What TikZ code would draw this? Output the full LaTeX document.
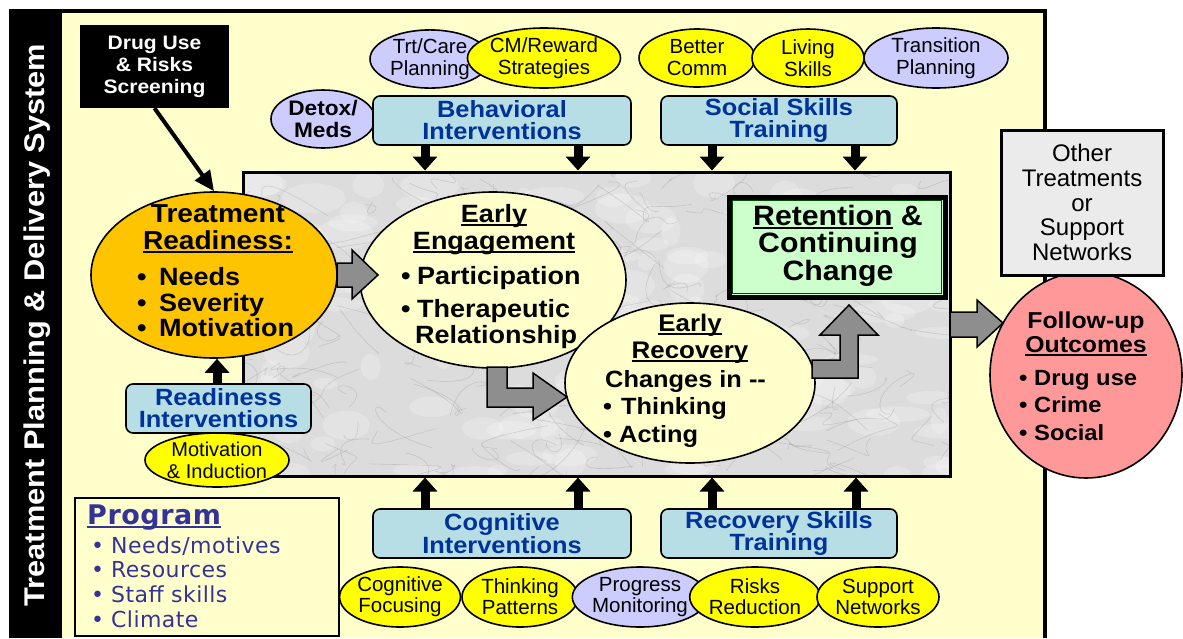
\documentclass[tikz,border=0pt]{standalone}
\usepackage{fontspec}
\setmainfont{Liberation Sans}[BoldFeatures={FakeStretch=1.08}]
\newfontfamily\dejavu{DejaVu Sans}[LetterSpace=2]
\usetikzlibrary{shapes.geometric,arrows.meta}
\definecolor{bgyellow}{HTML}{FFFFCC}
\definecolor{orangey}{HTML}{FFC400}
\definecolor{lav}{HTML}{CCCCFF}
\definecolor{yel}{HTML}{FFFF00}
\definecolor{ltblue}{HTML}{B7DEE4}
\definecolor{dblue}{HTML}{003399}
\definecolor{progblue}{HTML}{333399}
\definecolor{pinkc}{HTML}{FF9999}
\definecolor{greenc}{HTML}{CCFFCC}
\definecolor{arrgrey}{HTML}{8E8E8E}
\definecolor{marblebase}{HTML}{DCDCDC}
\definecolor{veins}{HTML}{8C8C8C}
\definecolor{othergrey}{HTML}{EBEBEB}
\newcommand\fs[2]{\fontsize{#1}{#2}\selectfont}
\newcommand\ulx[1]{\setbox0\hbox{#1}\rlap{\rule[-3.5pt]{\wd0}{2pt}}\box0\relax}
\newcommand\bulw[1]{\makebox[#1][l]{•}}
\begin{document}
\begin{tikzpicture}[x=1pt,y=-1pt,
  oval/.style={ellipse, draw=black, line width=1.6pt, inner sep=0pt, align=center, font=\fs{20.5}{22}},
  txt/.style={inner sep=0pt, align=center},
  bluebox/.style={draw=black, line width=1.6pt, rounded corners=7pt, fill=ltblue, inner sep=0pt, align=center, text=dblue, font=\bfseries\fs{23.5}{22}},
  blkarrow/.style={line width=9pt, -{Triangle[width=24pt,length=14pt]}},
  greyarr/.style={fill=arrgrey, draw=black, line width=1.5pt, line join=miter}]
\useasboundingbox (0,0) rectangle (1183,638);
% background frames
\fill[black] (9,9) rectangle (62,638);
\fill[bgyellow] (62,11) rectangle (1045,638);
\draw[line width=3.5pt] (62,11) -- (1045,11) -- (1045,638);
\node[txt, rotate=90, text=white, font=\bfseries\fs{28.5}{28}] (sys) at (37,325) {Treatment Planning \& Delivery System};
% screening
\node[fill=black, minimum width=149pt, minimum height=83pt, inner sep=0pt, align=center, text=white, font=\bfseries\fs{19.5}{22}] (drug) at (154.5,66.5) {Drug Use\\\& Risks\\Screening};
% top ovals
\node[oval, fill=lav, minimum width=120pt, minimum height=58pt] (trt) at (430,59) {Trt/Care\\Planning};
\node[oval, fill=yel, minimum width=136pt, minimum height=60pt] (cm) at (544,58) {CM/Reward\\Strategies};
\node[oval, fill=yel, minimum width=116pt, minimum height=58pt] (bc) at (697,58) {Better\\Comm};
\node[oval, fill=yel, minimum width=112pt, minimum height=58pt] (ls) at (808,58) {Living\\Skills};
\node[oval, fill=lav, minimum width=144pt, minimum height=60pt] (tp) at (936,58) {Transition\\Planning};
\node[oval, fill=lav, minimum width=104pt, minimum height=58pt, font=\bfseries\fs{21}{22}] (detox) at (323,119) {Detox/\\Meds};
\node[bluebox, minimum width=258pt, minimum height=49pt] (beh) at (502,120.5) {Behavioral\\Interventions};
\node[bluebox, minimum width=236pt, minimum height=49pt] (soc) at (779,120.5) {Social Skills\\Training};
% marble area
\begin{scope}
\clip (243,172) rectangle (950,476);
\fill[marblebase] (243,172) rectangle (950,476);
\pgfmathsetseed{42}
\foreach \i in {1,...,140}{
  \pgfmathsetmacro\cx{243+rnd*707}
  \pgfmathsetmacro\cy{172+rnd*304}
  \pgfmathsetmacro\rx{8+rnd*25}
  \pgfmathsetmacro\ry{5+rnd*12}
  \fill[white, opacity=0.22] (\cx,\cy) ellipse [x radius=\rx, y radius=\ry];
}
\foreach \i in {1,...,220}{
  \pgfmathsetmacro\ax{243+rnd*707}
  \pgfmathsetmacro\ay{172+rnd*304}
  \pgfmathsetmacro\bx{\ax+rand*40}
  \pgfmathsetmacro\by{\ay+rand*25}
  \pgfmathsetmacro\ccx{\ax+rand*40}
  \pgfmathsetmacro\ccy{\ay+rand*30}
  \pgfmathsetmacro\ex{\ax+rand*70}
  \pgfmathsetmacro\ey{\ay+rand*40}
  \draw[veins, line width=0.6pt, opacity=0.3] (\ax,\ay) .. controls (\bx,\by) and (\ccx,\ccy) .. (\ex,\ey);
}
\end{scope}
\node[draw=black, line width=3pt, minimum width=707pt, minimum height=304pt, inner sep=0pt] (marble) at (596.5,324) {};
% top arrows
\foreach \nm/\dx in {beh/-77, beh/76, soc/-67, soc/76}{
  \coordinate (t) at ([xshift=\dx pt]\nm.south);
  \draw[blkarrow] (t) -- (t |- marble.north);
}
% bottom boxes
\node[bluebox, minimum width=258pt, minimum height=49pt] (cog) at (502,533.5) {Cognitive\\Interventions};
\node[bluebox, minimum width=236pt, minimum height=49pt] (rst) at (779,533.5) {Recovery Skills\\Training};
\foreach \nm/\dx in {cog/-77, cog/76, rst/-67, rst/77}{
  \coordinate (t) at ([xshift=\dx pt]\nm.north);
  \draw[blkarrow] (t) -- (t |- marble.south);
}
\node[oval, fill=yel, minimum width=120pt, minimum height=60pt, font=\fs{20.5}{21}] (cf) at (400,597) {Cognitive\\Focusing};
\node[oval, fill=yel, minimum width=116pt, minimum height=60pt, font=\fs{20.5}{21}] (tpat) at (520,597) {Thinking\\Patterns};
\node[oval, fill=lav, minimum width=114pt, minimum height=60pt, font=\fs{20.5}{21}] (pm) at (640,597) {Progress\\Monitoring};
\node[oval, fill=yel, minimum width=116pt, minimum height=60pt, font=\fs{20.5}{21}] (rr) at (755,597) {Risks\\Reduction};
\node[oval, fill=yel, minimum width=122pt, minimum height=60pt, font=\fs{20.5}{21}] (sn) at (878,597) {Support\\Networks};
% retention box
\node[fill=greenc, draw=black, line width=5pt, minimum width=216pt, minimum height=100pt, inner sep=0pt] (ret) at (837,247) {};
\draw[draw=black!70!green, line width=0.8pt] ([shift={(6pt,6pt)}]ret.south west) rectangle ([shift={(-6pt,-6pt)}]ret.north east);
\node[txt, font=\bfseries\fs{28}{27.5}] (rett) at (838,245.5) {\ulx{Retention} \&\\Continuing\\Change};
% treatment readiness
\node[ellipse, draw=black, line width=1.6pt, fill=orangey, minimum width=246pt, minimum height=166pt, inner sep=0pt] (tr) at (214,275) {};
\node[txt, font=\bfseries\fs{26}{27}] (trh) at (218,229) {Treatment\\\ulx{Readiness:}};
\node[txt, align=left, anchor=west, font=\bfseries\fs{25}{25.5}] (trb) at (137,302.5) {\bulw{22pt}Needs\\\bulw{22pt}Severity\\\bulw{22pt}Motivation};
% readiness interventions
\node[bluebox, minimum width=185pt, minimum height=49pt] (rint) at (218.5,408.5) {Readiness\\Interventions};
\draw[blkarrow] ([xshift=-1.5pt]rint.north) -- ([xshift=-1.5pt]rint.north |- tr.south);
\node[oval, fill=yel, minimum width=144pt, minimum height=54pt, font=\fs{20}{22}] (mot) at (217,460) {Motivation\\\& Induction};
% screening arrow
\draw[line width=4pt, -{Triangle[width=18pt,length=20pt]}] (drug.south) -- (tr.north);
% early engagement
\node[ellipse, draw=black, line width=1.6pt, fill=bgyellow, minimum width=266pt, minimum height=176pt, inner sep=0pt] (ee) at (493,280) {};
\node[txt, font=\bfseries\fs{25}{27}] (eeh) at (494,230) {\ulx{Early}\\\ulx{Engagement}};
\node[txt, align=left, anchor=west, font=\bfseries\fs{25}{26}] (eeb) at (401,307.5) {\bulw{16pt}Participation\\[7pt]\bulw{16pt}Therapeutic\\\hspace*{14pt}Relationship};
% early recovery
\node[ellipse, draw=black, line width=1.6pt, fill=bgyellow, minimum width=250pt, minimum height=160pt, inner sep=0pt] (er) at (690,383) {};
\node[txt, font=\bfseries\fs{24}{27}] (erh) at (690,339) {\ulx{Early}\\\ulx{Recovery}};
\node[txt, align=left, anchor=west, font=\bfseries\fs{23.5}{27.5}] (erb) at (603,408.5) {\hspace*{2pt}Changes in {-}{-}\\\bulw{18pt}Thinking\\\bulw{16pt}Acting};
% grey block arrows
\draw[greyarr] (337,263) -- (352,263) -- (352,250) -- (378,275) -- (352,299) -- (352,287) -- (337,287) -- cycle;
\draw[greyarr] (487,367) -- (507,367) -- (507,388) -- (533,388) -- (533,373) -- (567,397) -- (533,420) -- (533,407) -- (487,407) -- cycle;
\draw[greyarr] (812,360) -- (840,360) -- (840,335) -- (820,335) -- (849,305) -- (878,335) -- (858,335) -- (858,378) -- (812,378) -- cycle;
% follow-up
\node[ellipse, draw=black, line width=1.6pt, fill=pinkc, minimum width=192pt, minimum height=206pt, inner sep=0pt] (fu) at (1086,375) {};
\draw[greyarr] (950,312) -- (977,312) -- (977,300) -- (1003,323) -- (977,347) -- (977,337) -- (950,337) -- cycle;
\node[txt, font=\bfseries\fs{23}{23.5}] (fuh) at (1086,334) {Follow-up\\\ulx{Outcomes}};
\node[txt, align=left, anchor=west, font=\bfseries\fs{22}{27.5}] (fub) at (1019,405.5) {\bulw{15pt}Drug use\\\bulw{15pt}Crime\\\bulw{15pt}Social};
% other treatments
\node[fill=othergrey, draw=black, line width=3pt, minimum width=162pt, minimum height=145pt, inner sep=0pt, align=center, font=\fs{24}{24.75}] (oth) at (1082,202.5) {Other\\Treatments\\or\\Support\\Networks};
% program box
\node[fill=bgyellow, draw=black, line width=1.8pt, minimum width=264pt, minimum height=138pt, inner sep=0pt] (prog) at (207,567) {};
\node[txt, anchor=west, text=progblue, font=\dejavu\bfseries\fs{27}{27}] (progh) at (87,518) {\ulx{Program}};
\node[txt, align=left, anchor=west, text=progblue, font=\dejavu\fs{22}{24.7}] (progb) at (91,582) {\bulw{20pt}Needs/motives\\\bulw{20pt}Resources\\\bulw{20pt}Staff skills\\\bulw{20pt}Climate};
\end{tikzpicture}
\end{document}
